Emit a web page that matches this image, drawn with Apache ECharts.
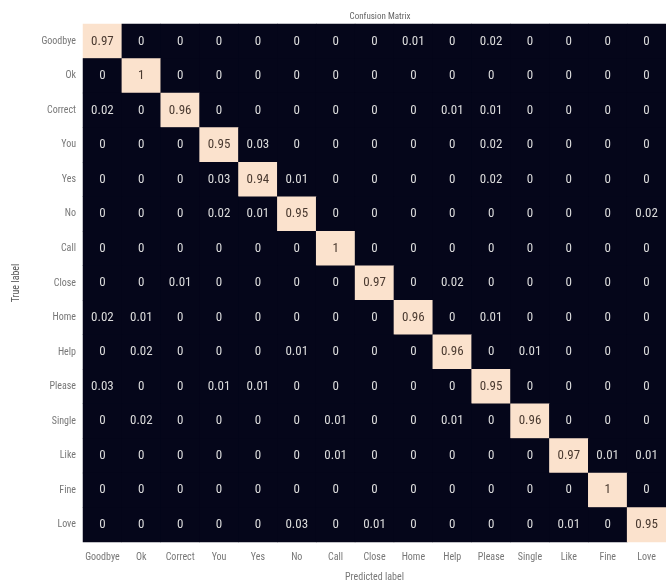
<!DOCTYPE html>
<html><head><meta charset="utf-8">
<script src="https://cdn.jsdelivr.net/npm/echarts@6/dist/echarts.min.js"></script>
<style>html,body{margin:0;padding:0;background:#fff}#c{width:666px;height:587px}</style>
</head><body><div id="c"></div>
<script>
const labels = ['Goodbye','Ok','Correct','You','Yes','No','Call','Close','Home','Help','Please','Single','Like','Fine','Love'];
const rowGoodbye = [0.97,0,0,0,0,0,0,0,0.01,0,0.02,0,0,0,0];
const rowOk      = [0,1,0,0,0,0,0,0,0,0,0,0,0,0,0];
const rowCorrect = [0.02,0,0.96,0,0,0,0,0,0,0.01,0.01,0,0,0,0];
const rowYou     = [0,0,0,0.95,0.03,0,0,0,0,0,0.02,0,0,0,0];
const rowYes     = [0,0,0,0.03,0.94,0.01,0,0,0,0,0.02,0,0,0,0];
const rowNo      = [0,0,0,0.02,0.01,0.95,0,0,0,0,0,0,0,0,0.02];
const rowCall    = [0,0,0,0,0,0,1,0,0,0,0,0,0,0,0];
const rowClose   = [0,0,0.01,0,0,0,0,0.97,0,0.02,0,0,0,0,0];
const rowHome    = [0.02,0.01,0,0,0,0,0,0,0.96,0,0.01,0,0,0,0];
const rowHelp    = [0,0.02,0,0,0,0.01,0,0,0,0.96,0,0.01,0,0,0];
const rowPlease  = [0.03,0,0,0.01,0.01,0,0,0,0,0,0.95,0,0,0,0];
const rowSingle  = [0,0.02,0,0,0,0,0.01,0,0,0.01,0,0.96,0,0,0];
const rowLike    = [0,0,0,0,0,0,0.01,0,0,0,0,0,0.97,0.01,0.01];
const rowFine    = [0,0,0,0,0,0,0,0,0,0,0,0,0,1,0];
const rowLove    = [0,0,0,0,0,0.03,0,0.01,0,0,0,0,0.01,0,0.95];
const matrix = [rowGoodbye,rowOk,rowCorrect,rowYou,rowYes,rowNo,rowCall,rowClose,rowHome,rowHelp,rowPlease,rowSingle,rowLike,rowFine,rowLove];

const FONT = '"Liberation Sans Narrow","Roboto Condensed","Liberation Sans",Arial,sans-serif';
const DARK = '#05061a';
const PEACH = '#fbe2cd';
const data = [];
matrix.forEach((row, r) => row.forEach((v, c) => {
  data.push({value: [c, r, v], label: {color: v > 0.5 ? '#4a3a30' : '#dcdcdc'}});
}));

const chart = echarts.init(document.getElementById('c'));
chart.setOption({
  backgroundColor: '#fff',
  animation: false,
  title: {text: 'Confusion Matrix', left: 375, top: 7, textAlign: 'center',
    textStyle: {fontFamily: FONT, fontSize: 9, fontWeight: 'normal', color: '#666'}},
  grid: {left: 83, top: 24, right: -2, bottom: 45, show: true, backgroundColor: DARK, borderWidth: 0},
  xAxis: {type: 'category', data: labels, position: 'bottom',
    name: 'Predicted label', nameLocation: 'middle', nameGap: 30,
    nameTextStyle: {fontFamily: FONT, fontSize: 10, color: '#777'},
    axisLine: {show: false}, axisTick: {show: false}, splitLine: {show: false},
    axisLabel: {fontFamily: FONT, fontSize: 10, color: '#777', margin: 10, interval: 0}},
  yAxis: {type: 'category', data: labels, inverse: true,
    name: 'True label', nameLocation: 'middle', nameGap: 62, nameRotate: 90,
    nameTextStyle: {fontFamily: FONT, fontSize: 10, color: '#555'},
    axisLine: {show: false}, axisTick: {show: false}, splitLine: {show: false},
    axisLabel: {fontFamily: FONT, fontSize: 10, color: '#777', margin: 7, interval: 0}},
  visualMap: {show: false, min: 0, max: 1, dimension: 2,
    inRange: {color: [DARK,DARK,DARK,DARK,DARK,DARK,'#4C1D4B','#A11A5B','#F69C73',PEACH,PEACH]}},
  series: [{type: 'heatmap', data: data,
    label: {show: true, fontFamily: FONT, fontSize: 13,
      formatter: p => String(p.value[2])},
    itemStyle: {borderWidth: 0}}]
});
</script></body></html>
